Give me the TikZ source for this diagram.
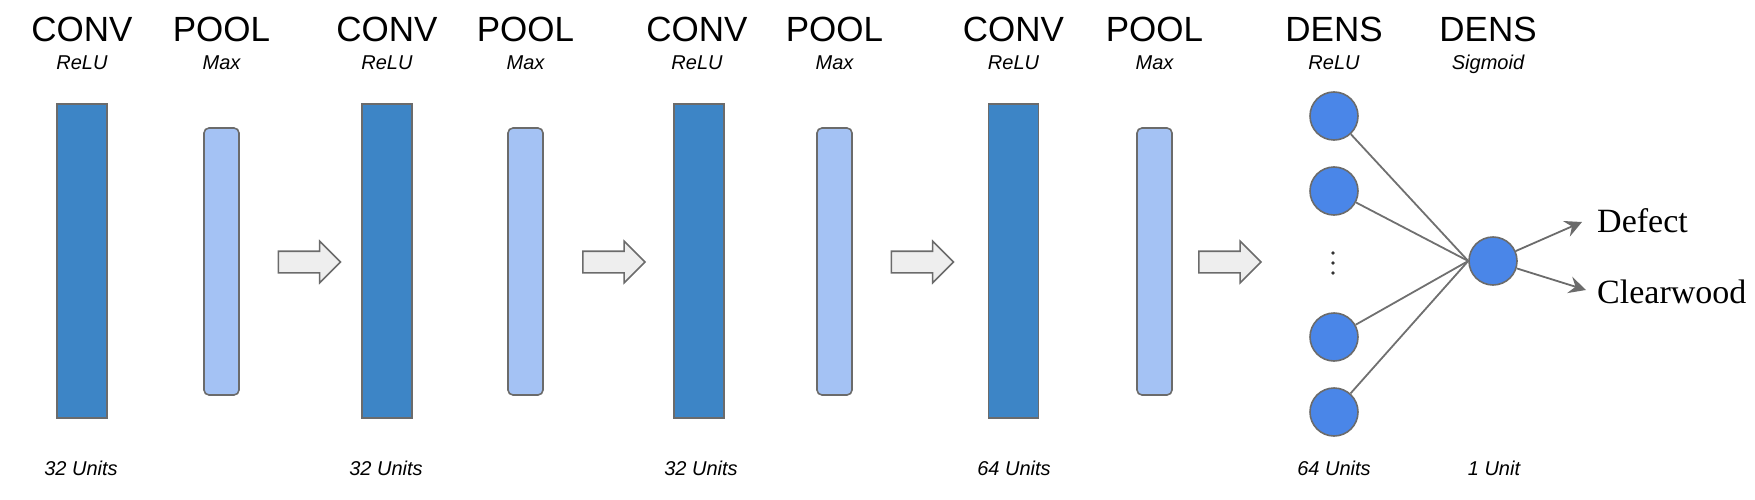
\documentclass[tikz,border=0pt]{standalone}
\usepackage{fontspec}
\setmainfont{Liberation Sans}
\newfontfamily\serifout{Liberation Serif}
\usetikzlibrary{arrows.meta,shapes.arrows}
\definecolor{convblue}{HTML}{3D85C6}
\definecolor{poolblue}{HTML}{A4C2F4}
\definecolor{neuronblue}{HTML}{4A86E8}
\definecolor{edgegray}{HTML}{6B6B6B}
\definecolor{arrowfill}{HTML}{EEEEEE}
\definecolor{linegray}{HTML}{707070}
\begin{document}
\begin{tikzpicture}[x=1pt,y=-1pt,
 convbox/.style={draw=edgegray, line width=1.6pt, fill=convblue, minimum width=50pt, minimum height=314pt, inner sep=0pt},
 poolbox/.style={draw=edgegray, line width=1.6pt, fill=poolblue, rounded corners=5pt, minimum width=35pt, minimum height=267pt, inner sep=0pt},
 neuron/.style={circle, draw=edgegray, line width=1.6pt, fill=neuronblue, minimum size=48pt, inner sep=0pt},
 flowarr/.style={single arrow, draw=edgegray, fill=arrowfill, line width=1.6pt, inner xsep=0pt, inner ysep=10pt, single arrow head extend=10pt, minimum height=62pt},
 title/.style={anchor=base, inner sep=0pt, font=\fontsize{35}{35}\selectfont},
 sub/.style={anchor=base, inner sep=0pt, font=\fontsize{20}{20}\selectfont\itshape},
 units/.style={anchor=base, inner sep=0pt, font=\fontsize{20}{20}\selectfont\itshape},
 outlabel/.style={anchor=base west, inner sep=0pt, font=\serifout\fontsize{34}{34}\selectfont},
 vdot/.style={circle, fill=black!80, inner sep=0pt, minimum size=3.6pt},
 conn/.style={draw=linegray, line width=1.8pt},
 outarrow/.style={draw=edgegray, line width=1.8pt, -{Stealth[length=17pt,width=17pt,inset=6pt]}}
]
\useasboundingbox (0,0) rectangle (1755,500);

% layers
\node[convbox] (c1) at (82,261) {};
\node[poolbox] (p1) at (221.5,261.5) {};
\node[flowarr] (a1) at (304,262) {};
\node[convbox] (c2) at (387,261) {};
\node[poolbox] (p2) at (525.5,261.5) {};
\node[flowarr] (a2) at (608.5,262) {};
\node[convbox] (c3) at (699,261) {};
\node[poolbox] (p3) at (834.5,261.5) {};
\node[flowarr] (a3) at (917,262) {};
\node[convbox] (c4) at (1013.5,261) {};
\node[poolbox] (p4) at (1154.5,261.5) {};
\node[flowarr] (a4) at (1224.5,262) {};

% titles
\node[title] (t1) at (82,42) {CONV};
\node[sub] (s1) at (82,70) {ReLU};
\node[title] (t2) at (221.5,42) {POOL};
\node[sub] (s2) at (221.5,70) {Max};
\node[title] (t3) at (387,42) {CONV};
\node[sub] (s3) at (387,70) {ReLU};
\node[title] (t4) at (525.5,42) {POOL};
\node[sub] (s4) at (525.5,70) {Max};
\node[title] (t5) at (697,42) {CONV};
\node[sub] (s5) at (697,70) {ReLU};
\node[title] (t6) at (834.5,42) {POOL};
\node[sub] (s6) at (834.5,70) {Max};
\node[title] (t7) at (1013.5,42) {CONV};
\node[sub] (s7) at (1013.5,70) {ReLU};
\node[title] (t8) at (1154.5,42) {POOL};
\node[sub] (s8) at (1154.5,70) {Max};
\node[title] (t9) at (1334,42) {DENS};
\node[sub] (s9) at (1334,70) {ReLU};
\node[title] (t10) at (1488,42) {DENS};
\node[sub] (s10) at (1488,70) {Sigmoid};

% unit labels
\node[units] (u1) at (81,475) {32 Units};
\node[units] (u2) at (386,475) {32 Units};
\node[units] (u3) at (701,475) {32 Units};
\node[units] (u4) at (1014,475) {64 Units};
\node[units] (u5) at (1334,475) {64 Units};
\node[units] (u6) at (1494,475) {1 Unit};

% dense layer
\node[neuron] (n1) at (1334,116) {};
\node[neuron] (n2) at (1334,191) {};
\node[vdot] (d1) at (1333,253) {};
\node[vdot] (d2) at (1333,263) {};
\node[vdot] (d3) at (1333,273) {};
\node[neuron] (n3) at (1334,337) {};
\node[neuron] (n4) at (1334,412) {};
\node[neuron] (out) at (1493,261) {};

\coordinate (hub) at (out.west);
\foreach \n in {n1,n2,n3,n4} \draw[conn] (\n) -- (hub);

\coordinate (defend) at (1582,222);
\coordinate (clearend) at (1586,290);
\draw[outarrow] (out) -- (defend);
\draw[outarrow] (out) -- (clearend);

\node[outlabel] (defect) at (1597,232) {Defect};
\node[outlabel] (clear) at (1597,303) {Clearwood};
\end{tikzpicture}
\end{document}
